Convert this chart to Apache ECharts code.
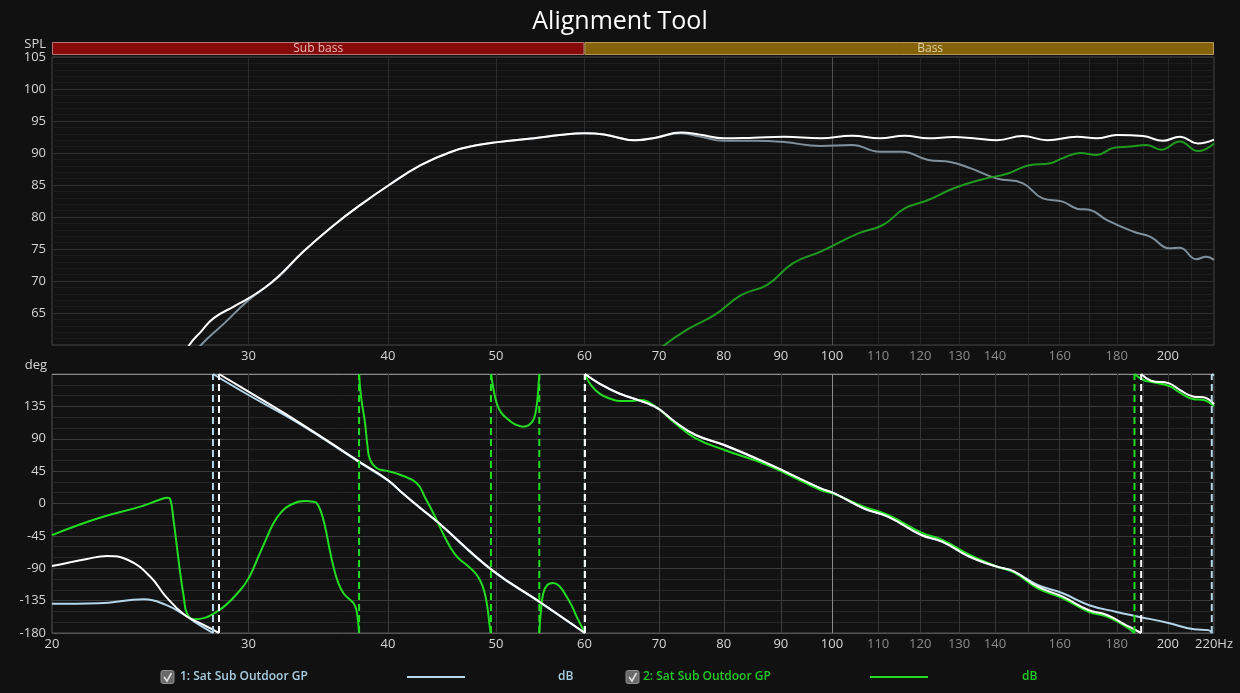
<!DOCTYPE html>
<html><head><meta charset="utf-8">
<script src="https://cdn.jsdelivr.net/npm/echarts@6/dist/echarts.min.js"></script>
<style>html,body{margin:0;padding:0;background:#111111;}#c{width:1240px;height:693px;}</style>
</head><body><div id="c"></div><script>
// ---------- data ----------
const bandNames = ['Sub bass', 'Bass'];
const bandEdges = [[20, 60], [60, 250]];
const xLabelsTop = [30, 40, 50, 60, 70, 80, 90, 100, 110, 120, 130, 140, 160, 180, 200];
const xLabelsBottom = [20, 30, 40, 50, 60, 70, 80, 90, 100, 110, 120, 130, 140, 160, 180, 200, 220];
const xGridLines = [30, 40, 50, 60, 70, 80, 90, 100, 110, 120, 130, 140, 150, 160, 170, 180, 190, 200, 210];

// SPL (dB) vs frequency (Hz)
const splSum = [[26.2,58],[26.55,60],[27.2,62.1],[27.92,64.2],[29.1,66],[30,67.3],[31,68.9],[31.9,70.7],[33.6,74.6],[35.8,78.75],[37.8,81.9],[40.1,85],[42.8,88.1],[45.6,90.2],[48,91.2],[50.2,91.7],[54.1,92.3],[57,92.8],[60,93.1],[62.5,92.9],[66.6,92.0],[69.5,92.4],[73.2,93.2],[76,92.9],[80.1,92.3],[85,92.4],[90.6,92.55],[97.7,92.3],[104.2,92.7],[110.4,92.3],[116.2,92.7],[122,92.3],[128.6,92.5],[134,92.3],[140.6,92.0],[148.2,92.65],[156,92.0],[165.8,92.55],[172.7,92.3],[180,92.8],[190,92.65],[197.9,91.9],[205,92.55],[212.8,91.5],[220,92.1]];
const splSub = [[26.9,58.5],[27.2,60],[28.5,63.3],[30,67],[31.9,70.6],[33.6,74.6],[35.8,78.75],[37.8,81.9],[40.1,85],[42.8,88.1],[45.6,90.2],[48,91.2],[50.2,91.7],[54.1,92.3],[57,92.8],[60,93.1],[62.5,92.9],[66.6,92.0],[69.5,92.4],[73.2,93.1],[76,92.6],[80.1,91.9],[85,91.9],[90.6,91.7],[97.7,91.1],[104.2,91.25],[110.4,90.2],[115.6,90.2],[122,88.9],[127.7,88.6],[133.2,87.6],[140.6,86.0],[148.2,85.3],[154.5,82.9],[161,82.4],[165.8,81.3],[170.4,81.1],[176.4,79.5],[186.4,77.7],[193,76.9],[200.6,75.1],[205,75.2],[212.1,73.4],[216.5,73.8],[220,73.3]];
const splSat = [[70.2,59],[70.8,60],[74.5,62.6],[78.5,64.7],[82.9,67.8],[87.5,69.4],[92.3,72.8],[97.7,74.6],[105.6,77.45],[111.1,78.75],[116.2,81.35],[122,82.65],[128.6,84.5],[136.5,85.9],[143.8,86.8],[150.2,88.1],[156.9,88.4],[161,89.2],[167,90.0],[172.7,89.7],[178.8,90.8],[185,91.0],[191.4,91.25],[197.3,90.5],[205,91.8],[212.8,90.3],[220,91.5]];

// Phase (deg) vs frequency (Hz), wrapped segments
const phaseSum = [
  [[20,-87],[21.5,-77],[22.4,-73],[23.4,-78.5],[24.5,-101.7],[25.3,-129.5],[26.3,-155],[27.2,-167],[27.9,-175.8],[28.23,-180]],
  [[28.23,180],[30,155.4],[33.4,111.5],[37.7,58.1],[40,32.7],[41.1,16.4],[42.8,-6.7],[44.3,-25.3],[49.6,-92.4],[54.7,-136.5],[60.07,-180]],
  [[60.07,180],[62,166],[64.4,153.2],[69.4,134.6],[72.3,113.7],[75.5,95.2],[80.1,81.3],[87.5,55.9],[97.7,21.1],[100.5,14.2],[106.8,-6.7],[112.3,-18.3],[120.3,-43.8],[125.6,-53],[132.9,-74],[140.6,-87.8],[145.7,-94.8],[152.9,-115.6],[161,-129.5],[169.8,-148],[176.4,-155],[183.4,-168.9],[189.3,-180]],
  [[189.3,180],[193.2,170.7],[200.6,167],[205,157.8],[211.1,148.5],[215.3,147.6],[220,138]]
];
const phaseSub = [
  [[20,-139.5],[22,-138.7],[24.2,-133.2],[25.3,-141],[26.3,-155],[27.0,-167],[27.88,-180]],
  [[27.88,180],[30,150.8],[33.4,110],[37.7,57.5],[40,32],[41.1,16],[42.8,-7],[44.3,-25.8],[49.6,-93],[54.7,-137],[60.05,-180]],
  [[60.05,180],[62,166],[64.4,153],[69.4,134.5],[72.3,113.5],[75.5,95],[80.1,81],[87.5,55.5],[97.7,20.8],[100.5,14],[106.8,-7],[112.3,-18.6],[120.3,-44],[125.6,-53.3],[132.9,-74.3],[140.6,-88],[145.7,-95],[152.9,-113.3],[161,-124.8],[169.8,-141],[179.6,-150.4],[188.3,-157.3],[199.8,-165.7],[211.1,-174.9],[217.5,-176],[219.0,-180]],
  [[219.0,180],[220,178]]
];
const phaseSat = [
  [[20,-44],[22,-20.6],[24,-4.4],[25.0,5.5],[25.36,8.1],[25.53,6],[25.7,-23],[25.88,-60],[26.06,-97],[26.25,-130],[26.42,-152.6],[26.79,-161],[28.11,-150.4],[29.5,-120.2],[30.1,-100],[30.53,-78.5],[31.0,-55],[31.59,-27.5],[32.1,-12],[32.7,-2.1],[33.73,3.5],[34.3,2.5],[34.55,0.3],[34.85,-12],[35.14,-32.2],[35.45,-62],[35.75,-87.8],[36.1,-110],[36.5,-124.8],[37.0,-134],[37.27,-138.7],[37.45,-146],[37.57,-157.3],[37.69,-180]],
  [[37.69,180],[37.85,148],[38.16,111.5],[38.35,80],[38.56,60.5],[39.1,49],[40,45],[41.02,40],[42.46,28],[43.2,8],[43.94,-13.6],[44.7,-38],[45.47,-60],[46.2,-75],[47.07,-85.5],[47.8,-95],[48.37,-106.3],[48.8,-122],[49.11,-143.4],[49.3,-165],[49.45,-180]],
  [[49.51,180],[49.7,162],[50.07,139.3],[50.5,127],[51.12,118.4],[52,110],[52.89,106.8],[53.5,109],[54.0,116],[54.3,130],[54.45,143.9],[54.58,163],[54.67,180]],
  [[54.67,-180],[54.85,-150],[55.12,-124.8],[55.6,-113],[56.27,-110.5],[57.0,-115],[57.85,-129.5],[58.5,-143],[59.05,-157.3],[60.07,-180]],
  [[60.07,180],[60.8,165],[62,152],[63.5,145],[64.6,142.5],[66,142.5],[67.3,144],[69.4,135.5],[72.3,112],[75.5,90.6],[80.1,74.4],[87.5,53.5],[97.7,18.8],[100.5,13],[106.8,-4.4],[112.3,-16],[120.3,-40.6],[125.6,-50.5],[132.9,-71.6],[140.6,-87.8],[145.7,-96],[152.9,-117.9],[161,-131.8],[169.8,-150.4],[176.4,-157.3],[183.4,-171.2],[186.7,-180]],
  [[186.7,180],[190,172],[193,169.3],[200.6,163.3],[205,154],[211.1,144.9],[215.3,143.9],[220,135]]
];
const wrapsSum = [28.23, 60.07, 189.3];
const wrapsSub = [27.88, 60.05, 219.0];
const wrapsSat = [37.69, 49.48, 54.67, 60.07, 186.7];

const legendNames = ['1: Sat Sub Outdoor GP', '2: Sat Sub Outdoor GP'];
const legendUnits = ['dB', 'dB'];

// ---------- helpers ----------
function joinSegs(segs) {
  const out = [];
  segs.forEach((s, i) => { if (i > 0) out.push([s[0][0], '-']); s.forEach(p => out.push(p)); });
  return out;
}
function wrapLines(fs) {
  const out = [];
  fs.forEach((f, i) => { if (i > 0) out.push([f, '-']); out.push([f, -180], [f, 180]); });
  return out;
}

const FONT = '"Open Sans", "DejaVu Sans", sans-serif';
const C = {
  white: '#ffffff', sub: '#b3d6ea', subTop: '#7f909c', sat: '#22dd22', satTop: '#1f9a1f'
};
const bandFill = ['#870a0a', '#866208'];
const bandStroke = ['#b87474', '#b39a5a'];
const bandText = ['#e6b8b8', '#dccfa8'];

const L = 52, R = 26;
const grids = [
  { left: L, right: R, top: 42, height: 13 },
  { left: L, right: R, top: 57, height: 288, show: true, borderColor: '#444', borderWidth: 1, backgroundColor: '#121212' },
  { left: L, right: R, top: 374, height: 259, show: true, borderColor: '#555', borderWidth: 1, backgroundColor: '#121212' }
];

function labelColor(v) { v = +v; return (v > 100 && v < 200) ? '#8c8c8c' : '#d6d6d6'; }

function xAxisFor(gi, labels, lineColors) {
  return {
    type: 'log', logBase: 10, gridIndex: gi, min: 20, max: 220,
    axisLine: { show: false },
    axisTick: { show: false, customValues: xGridLines },
    axisLabel: labels ? {
      show: true, customValues: labels, margin: 5, fontSize: 13, fontFamily: FONT,
      color: labelColor,
      formatter: v => (+v === 220 ? '220Hz' : String(+v))
    } : { show: false },
    splitLine: { show: !!lineColors, lineStyle: { color: lineColors || '#000', width: 1 } }
  };
}
const topVColors = xGridLines.map(v => v === 100 ? '#505050' : (v < 100 ? '#2c2c2c' : '#262626'));
const botVColors = xGridLines.map(v => v === 100 ? '#8a8a8a' : (v < 100 ? '#3c3c3c' : '#363636'));

const phaseTicks = [-180, -135, -90, -45, 0, 45, 90, 135, 180];
const botHColors = phaseTicks.map(v => v === 180 ? '#8a8a8a' : (v === -180 ? '#555' : '#3c3c3c'));

const SM = 0.45;
const option = {
  backgroundColor: '#111111',
  animation: false,
  title: {
    text: 'Alignment Tool', left: 'center', top: 4,
    textStyle: { color: '#ffffff', fontSize: 25, fontWeight: 'normal', fontFamily: FONT }
  },
  grid: grids,
  xAxis: [
    { type: 'log', logBase: 10, gridIndex: 0, min: 20, max: 220, show: false },
    xAxisFor(1, xLabelsTop, topVColors),
    xAxisFor(2, xLabelsBottom, botVColors)
  ],
  yAxis: [
    { type: 'value', gridIndex: 0, min: 0, max: 1, show: false },
    {
      type: 'value', gridIndex: 1, min: 60, max: 105, interval: 5,
      name: 'SPL', nameLocation: 'end', nameGap: 3,
      nameTextStyle: { color: '#d6d6d6', fontSize: 13, fontFamily: FONT, align: 'right', padding: [0, 6, 0, 0] },
      axisLine: { show: false }, axisTick: { show: false },
      axisLabel: { color: '#d6d6d6', fontSize: 13, fontFamily: FONT, margin: 6, formatter: v => (v === 60 ? '' : String(v)) },
      splitLine: { show: true, lineStyle: { color: '#2e2e2e' } },
      minorTick: { show: false, splitNumber: 5 },
      minorSplitLine: { show: true, lineStyle: { color: '#1c1c1c' } }
    },
    {
      type: 'value', gridIndex: 2, min: -180, max: 180, interval: 45,
      name: 'deg', nameLocation: 'end', nameGap: 2,
      nameTextStyle: { color: '#d6d6d6', fontSize: 13, fontFamily: FONT, align: 'right', padding: [0, 5, 0, 0] },
      axisLine: { show: false }, axisTick: { show: false },
      axisLabel: { color: '#d6d6d6', fontSize: 13, fontFamily: FONT, margin: 6, formatter: v => (v === 180 ? '' : String(v)) },
      splitLine: { show: true, lineStyle: { color: botHColors } },
      minorTick: { show: false, splitNumber: 3 },
      minorSplitLine: { show: true, lineStyle: { color: '#272727' } }
    }
  ],
  series: [
    {
      type: 'custom', xAxisIndex: 0, yAxisIndex: 0, silent: true,
      data: bandEdges.map((e, i) => [e[0], e[1], i]),
      renderItem: function (params, api) {
        const i = api.value(2);
        const p0 = api.coord([api.value(0), 1]);
        const p1 = api.coord([api.value(1), 0]);
        const rect = { x: p0[0], y: p0[1], width: p1[0] - p0[0], height: p1[1] - p0[1] };
        const cs = params.coordSys;
        const clipped = echarts.graphic.clipRectByRect(rect, { x: cs.x, y: cs.y, width: cs.width, height: cs.height });
        return {
          type: 'group', children: [
            { type: 'rect', shape: { x: clipped.x + 0.5, y: clipped.y + 0.5, width: clipped.width - 1, height: clipped.height - 1 }, style: { fill: bandFill[i], stroke: bandStroke[i], lineWidth: 1 } },
            { type: 'text', style: { text: bandNames[i], x: rect.x + rect.width / 2, y: rect.y + rect.height / 2 + 0.5, align: 'center', verticalAlign: 'middle', fill: bandText[i], font: '12px ' + FONT } }
          ]
        };
      }
    },
    // SPL panel
    { type: 'line', xAxisIndex: 1, yAxisIndex: 1, data: splSub, showSymbol: false, smooth: SM, lineStyle: { color: C.subTop, width: 2 }, clip: true, z: 3 },
    { type: 'line', xAxisIndex: 1, yAxisIndex: 1, data: splSat, showSymbol: false, smooth: SM, lineStyle: { color: C.satTop, width: 2 }, clip: true, z: 3 },
    { type: 'line', xAxisIndex: 1, yAxisIndex: 1, data: splSum, showSymbol: false, smooth: SM, lineStyle: { color: C.white, width: 2 }, clip: true, z: 4 },
    // Phase panel
    { type: 'line', xAxisIndex: 2, yAxisIndex: 2, data: joinSegs(phaseSub), showSymbol: false, smooth: SM, lineStyle: { color: C.sub, width: 2 }, clip: true, z: 3 },
    { type: 'line', xAxisIndex: 2, yAxisIndex: 2, data: joinSegs(phaseSat), showSymbol: false, smooth: SM, lineStyle: { color: C.sat, width: 2 }, clip: true, z: 3 },
    { type: 'line', xAxisIndex: 2, yAxisIndex: 2, data: joinSegs(phaseSum), showSymbol: false, smooth: SM, lineStyle: { color: C.white, width: 2 }, clip: true, z: 4 },
    { type: 'line', xAxisIndex: 2, yAxisIndex: 2, data: wrapLines(wrapsSub), showSymbol: false, lineStyle: { color: C.sub, width: 2, type: [7, 4] }, clip: true, z: 5 },
    { type: 'line', xAxisIndex: 2, yAxisIndex: 2, data: wrapLines(wrapsSat), showSymbol: false, lineStyle: { color: C.sat, width: 2, type: [7, 4] }, clip: true, z: 5 },
    { type: 'line', xAxisIndex: 2, yAxisIndex: 2, data: wrapLines(wrapsSum), showSymbol: false, lineStyle: { color: C.white, width: 2, type: [7, 4] }, clip: true, z: 6 }
  ],
  graphic: (function () {
    const items = [];
    const rows = [
      { box: 161, text: 180, line: [407, 465], unit: 558, tc: '#a9cfe3', lc: '#b5d8ec' },
      { box: 626, text: 643, line: [870, 928], unit: 1022, tc: '#22c922', lc: '#22dd22' }
    ];
    rows.forEach((r, i) => {
      items.push({ type: 'rect', shape: { x: r.box, y: 670.5, width: 13, height: 13, r: 2 }, style: { fill: '#6a6a6a', stroke: '#8e8e8e', lineWidth: 1 } });
      items.push({ type: 'polyline', shape: { points: [[r.box + 3, 677], [r.box + 6, 681], [r.box + 10.5, 673]] }, style: { stroke: '#e0e0e0', lineWidth: 1.6, fill: null } });
      items.push({ type: 'text', x: r.text, y: 677, style: { text: legendNames[i], fill: r.tc, font: '600 12px ' + FONT, verticalAlign: 'middle', align: 'left' } });
      items.push({ type: 'line', shape: { x1: r.line[0], y1: 677, x2: r.line[1], y2: 677 }, style: { stroke: r.lc, lineWidth: 2 } });
      items.push({ type: 'text', x: r.unit, y: 677, style: { text: legendUnits[i], fill: r.tc, font: '600 12px ' + FONT, verticalAlign: 'middle', align: 'left' } });
    });
    return items;
  })()
};

const chart = echarts.init(document.getElementById('c'), null, { renderer: 'canvas' });
chart.setOption(option);
</script></body></html>
